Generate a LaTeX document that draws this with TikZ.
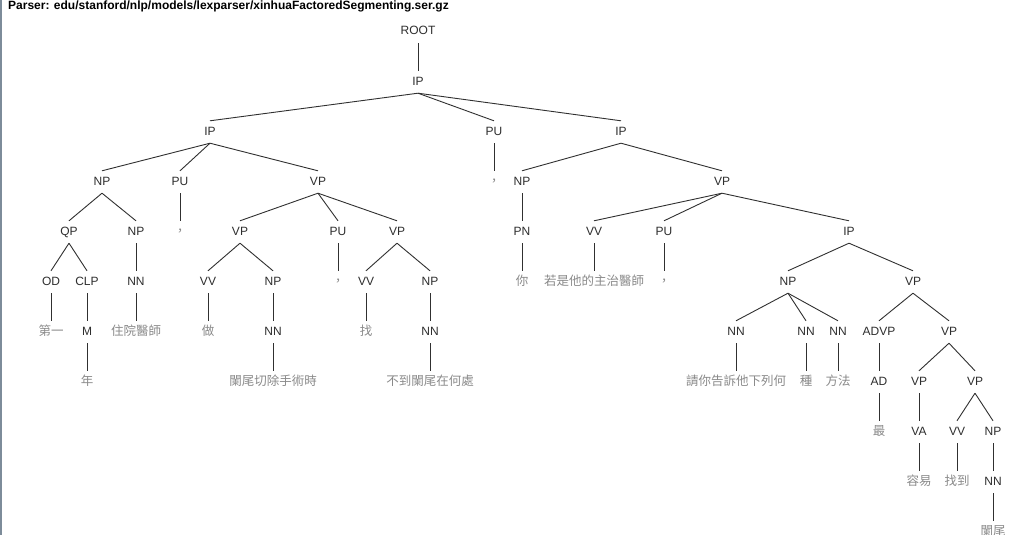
\documentclass[tikz,border=0pt]{standalone}
\usepackage{fontspec}
\setmainfont{Liberation Sans}
\newfontfamily\cjk{Noto Sans CJK TC}
\usetikzlibrary{positioning}
\definecolor{cLab}{HTML}{2e2e2e}
\definecolor{cLeaf}{HTML}{8a8a8a}
\definecolor{cEdge}{HTML}{303030}
\definecolor{cRim}{HTML}{7d8c9a}
\tikzset{
  lab/.style={inner xsep=1pt,inner ysep=5pt,text height=9pt,text depth=3pt,
    yshift=-2pt,text=cLab,font=\fontsize{12}{14}\selectfont},
  leaf/.style={lab,text=cLeaf,font=\cjk\fontsize{12.5}{14}\selectfont},
  branch/.style={cEdge,line width=0.9pt},
}
\begin{document}
\begin{tikzpicture}[x=1pt,y=-1pt]
\useasboundingbox[fill=white] (0,0) rectangle (1020,535);
\draw[cRim,line width=1.6pt] (0.8,0) -- (0.8,535);
\node[anchor=base west,inner sep=0pt,text=black,font=\bfseries\fontsize{12}{14}\selectfont]
  (title) at (8,10) {Parser: edu/stanford/nlp/models/lexparser/xinhuaFactoredSegmenting.ser.gz};
% phrase labels
\node[lab] (root) at (418,30) {ROOT};
\node[lab] (ip)   at (418,80) {IP};
\node[lab] (ipA)  at (210,130) {IP};
\node[lab] (puA)  at (494,130) {PU};
\node[lab] (ipB)  at (621,130) {IP};
\node[lab] (npA)  at (102,180) {NP};
\node[lab] (puB)  at (180,180) {PU};
\node[lab] (vpA)  at (318,180) {VP};
\node[leaf] (cmA) at (494,180) {，};
\node[lab] (npB)  at (522,180) {NP};
\node[lab] (vpB)  at (722,180) {VP};
\node[lab] (qp)   at (69,230) {QP};
\node[lab] (npC)  at (136,230) {NP};
\node[leaf] (cmB) at (180,230) {，};
\node[lab] (vpC)  at (240,230) {VP};
\node[lab] (puC)  at (338,230) {PU};
\node[lab] (vpD)  at (397,230) {VP};
\node[lab] (pn)   at (522,230) {PN};
\node[lab] (vvA)  at (594,230) {VV};
\node[lab] (puD)  at (664,230) {PU};
\node[lab] (ipC)  at (849,230) {IP};
\node[lab] (od)   at (51,280) {OD};
\node[lab] (clp)  at (87,280) {CLP};
\node[lab] (nnA)  at (136,280) {NN};
\node[lab] (vvB)  at (208,280) {VV};
\node[lab] (npD)  at (273,280) {NP};
\node[leaf] (cmC) at (338,280) {，};
\node[lab] (vvC)  at (366,280) {VV};
\node[lab] (npE)  at (430,280) {NP};
\node[leaf] (wA)  at (522,280) {你};
\node[leaf] (wB)  at (594,280) {若是他的主治醫師};
\node[leaf] (cmD) at (664,280) {，};
\node[lab] (npF)  at (788,280) {NP};
\node[lab] (vpE)  at (913,280) {VP};
\node[leaf] (wC)  at (51,330) {第一};
\node[lab] (m)    at (87,330) {M};
\node[leaf] (wD)  at (136,330) {住院醫師};
\node[leaf] (wE)  at (208,330) {做};
\node[lab] (nnB)  at (273,330) {NN};
\node[leaf] (wF)  at (366,330) {找};
\node[lab] (nnC)  at (430,330) {NN};
\node[lab] (nnD)  at (736,330) {NN};
\node[lab] (nnE)  at (806,330) {NN};
\node[lab] (nnF)  at (838,330) {NN};
\node[lab] (advp) at (879,330) {ADVP};
\node[lab] (vpF)  at (949,330) {VP};
\node[leaf] (wG)  at (87,380) {年};
\node[leaf] (wH)  at (273,380) {闌尾切除手術時};
\node[leaf] (wI)  at (430,380) {不到闌尾在何處};
\node[leaf] (wJ)  at (736,380) {請你告訴他下列何};
\node[leaf] (wK)  at (806,380) {種};
\node[leaf] (wL)  at (838,380) {方法};
\node[lab] (ad)   at (879,380) {AD};
\node[lab] (vpG)  at (919,380) {VP};
\node[lab] (vpH)  at (975,380) {VP};
\node[leaf] (wM)  at (879,430) {最};
\node[lab] (va)   at (919,430) {VA};
\node[lab] (vvD)  at (957,430) {VV};
\node[lab] (npG)  at (993,430) {NP};
\node[leaf] (wN)  at (919,480) {容易};
\node[leaf] (wO)  at (957,480) {找到};
\node[lab] (nnG)  at (993,480) {NN};
\node[leaf] (wP)  at (993,530) {闌尾};
% branches
\foreach \p/\c in {root/ip,ip/ipA,ip/puA,ip/ipB,ipA/npA,ipA/puB,ipA/vpA,puA/cmA,
    ipB/npB,ipB/vpB,npA/qp,npA/npC,puB/cmB,vpA/vpC,vpA/puC,vpA/vpD,npB/pn,
    vpB/vvA,vpB/puD,vpB/ipC,qp/od,qp/clp,npC/nnA,vpC/vvB,vpC/npD,puC/cmC,
    vpD/vvC,vpD/npE,pn/wA,vvA/wB,puD/cmD,ipC/npF,ipC/vpE,od/wC,clp/m,nnA/wD,
    vvB/wE,npD/nnB,vvC/wF,npE/nnC,npF/nnD,npF/nnE,npF/nnF,vpE/advp,vpE/vpF,
    m/wG,nnB/wH,nnC/wI,nnD/wJ,nnE/wK,nnF/wL,advp/ad,vpF/vpG,vpF/vpH,ad/wM,
    vpG/va,vpH/vvD,vpH/npG,va/wN,vvD/wO,npG/nnG,nnG/wP}
  \draw[branch] (\p.south) -- (\c.north);
\end{tikzpicture}
\end{document}
